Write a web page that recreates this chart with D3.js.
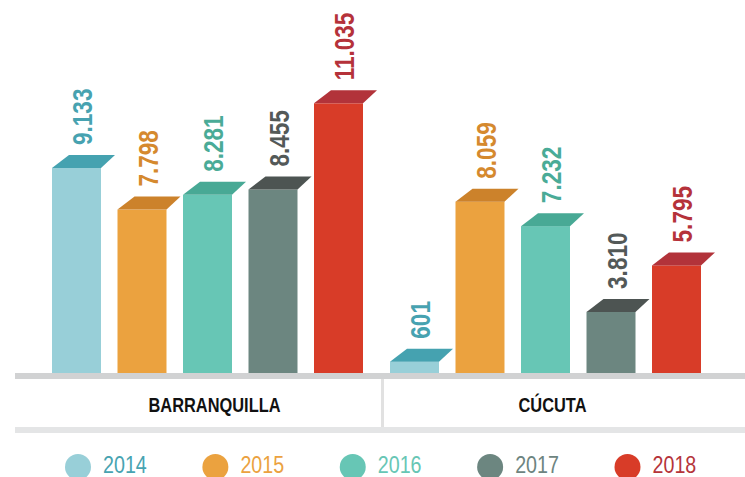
<!DOCTYPE html>
<html>
<head>
<meta charset="utf-8">
<script src="https://cdn.jsdelivr.net/npm/d3@7"></script>
<style>
  html, body { margin: 0; padding: 0; background: #ffffff; }
  svg { display: block; }
</style>
</head>
<body>
<svg id="chart" width="745" height="477"></svg>
<script>
// ---- data ----
const cities = ["BARRANQUILLA", "CÚCUTA"];
const years = ["2014", "2015", "2016", "2017", "2018"];
const values2014 = [9133, 601];
const values2015 = [7798, 8059];
const values2016 = [8281, 7232];
const values2017 = [8455, 3810];
const values2018 = [11035, 5795];
const valueLabels2014 = ["9.133", "601"];
const valueLabels2015 = ["7.798", "8.059"];
const valueLabels2016 = ["8.281", "7.232"];
const valueLabels2017 = ["8.455", "3.810"];
const valueLabels2018 = ["11.035", "5.795"];

const frontColors = ["#98cfd8", "#eba23f", "#67c6b5", "#6c8680", "#d83c28"];
const topColors   = ["#45a2b0", "#cc822b", "#48a995", "#4d5452", "#b2333a"];
const labelColors = ["#47a2b0", "#d5892e", "#4aab97", "#535958", "#b5323a"];
const legendColors = ["#47a3b1", "#eba23f", "#67c6b5", "#6d8480", "#b5343a"];

const seriesValues = [values2014, values2015, values2016, values2017, values2018];
const seriesLabels = [valueLabels2014, valueLabels2015, valueLabels2016, valueLabels2017, valueLabels2018];

const rows = [];
cities.forEach((c, ci) => {
  years.forEach((y, yi) => {
    rows.push({ city: c, year: y, yi, value: seriesValues[yi][ci], label: seriesLabels[yi][ci] });
  });
});

// ---- layout ----
const svg = d3.select("#chart");
const baseline = 373;
const depthDy = 13, depthDxL = 17, depthDxR = 14;
const font = "'Liberation Sans', Arial, Helvetica, sans-serif";
const squeeze = 0.82;

const x0 = d3.scaleBand().domain(cities).range([52, 728]).paddingInner(0).paddingOuter(0);
const x1 = d3.scaleBand().domain(years).range([0, 311]).paddingInner(0.252).paddingOuter(0);
const y = d3.scalePow().exponent(1.5)
  .domain([0, d3.max(rows, d => d.value)])
  .range([baseline - 8, 103.3]);

// bars
const g = svg.append("g");
const bar = g.selectAll("g.bar").data(rows).join("g").attr("class", "bar");

bar.append("rect")
  .attr("x", d => x0(d.city) + x1(d.year))
  .attr("y", d => y(d.value))
  .attr("width", x1.bandwidth())
  .attr("height", d => baseline - y(d.value))
  .attr("fill", d => frontColors[d.yi]);

bar.append("path")
  .attr("d", d => {
    const bx = x0(d.city) + x1(d.year), by = y(d.value), w = x1.bandwidth();
    return `M${bx},${by}L${bx + depthDxL},${by - depthDy}L${bx + w + depthDxR},${by - depthDy}L${bx + w},${by}Z`;
  })
  .attr("fill", d => topColors[d.yi]);

bar.append("text")
  .attr("transform", d => {
    const bx = x0(d.city) + x1(d.year);
    return `translate(${bx + 40},${y(d.value) - depthDy - 10}) rotate(-90) scale(${squeeze},1)`;
  })
  .attr("text-anchor", "start")
  .attr("font-family", font)
  .attr("font-weight", "bold")
  .attr("font-size", 27.5)
  .attr("fill", d => labelColors[d.yi])
  .text(d => d.label);

// category band
svg.append("rect").attr("x", 15).attr("y", 373).attr("width", 730).attr("height", 6).attr("fill", "#d1d2d3");
svg.append("rect").attr("x", 15).attr("y", 427).attr("width", 730).attr("height", 6).attr("fill", "#e4e5e6");
svg.append("rect").attr("x", 381).attr("y", 379).attr("width", 3).attr("height", 48).attr("fill", "#e1e1e1");

svg.selectAll("text.cat").data(cities).join("text")
  .attr("class", "cat")
  .attr("transform", d => `translate(${x0(d) + 311 / 2 + 7},411.7) scale(${squeeze},1)`)
  .attr("text-anchor", "middle")
  .attr("font-family", font)
  .attr("font-weight", "bold")
  .attr("font-size", 20)
  .attr("fill", "#111111")
  .text(d => d);

// legend
const legendX = d3.scalePoint().domain(years).range([78, 627.5]);
const leg = svg.selectAll("g.leg").data(years).join("g").attr("class", "leg")
  .attr("transform", d => `translate(${legendX(d)},467)`);
leg.append("circle").attr("r", 13).attr("fill", (d, i) => frontColors[i]);
leg.append("text")
  .attr("transform", `translate(25,5.5) scale(${squeeze},1)`)
  .attr("font-family", font)
  .attr("font-size", 24)
  .attr("fill", (d, i) => legendColors[i])
  .text(d => d);
</script>
</body>
</html>
